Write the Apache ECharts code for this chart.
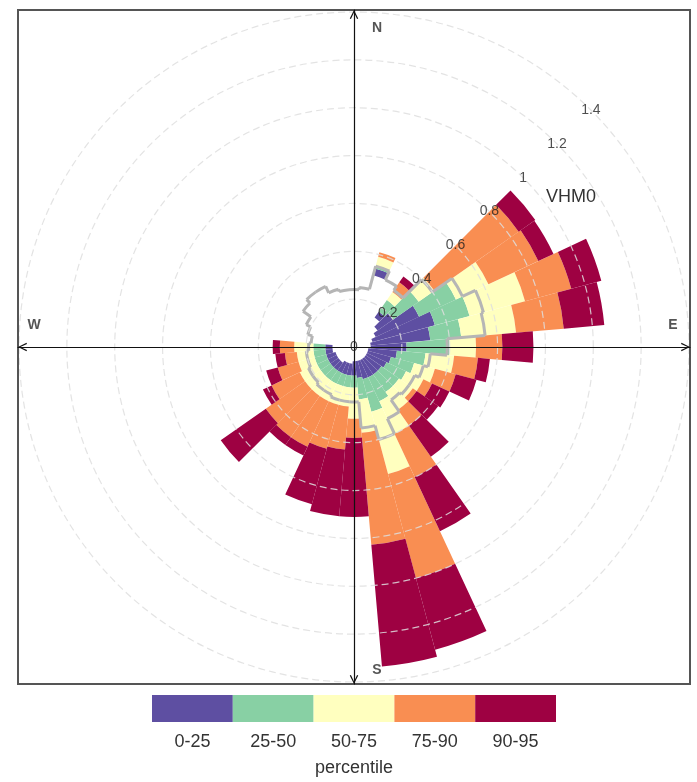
<!DOCTYPE html>
<html>
<head>
<meta charset="utf-8">
<script src="https://cdn.jsdelivr.net/npm/echarts@6/dist/echarts.min.js"></script>
<style>
  html, body { margin: 0; padding: 0; background: #fff; }
  #chart { width: 697px; height: 782px; }
</style>
</head>
<body>
<div id="chart"></div>
<script>
// wind direction bins (degrees, centre of each 10 degree sector)
const dirs = ['0', '10', '20', '30', '40', '50', '60', '70', '80', '90', '100', '110',
  '120', '130', '140', '150', '160', '170', '180', '190', '200', '210', '220', '230',
  '240', '250', '260', '270', '280', '290', '300', '310', '320', '330', '340', '350']

// VHM0 percentiles per sector (null = too few data for a band)
const p0 = [null, null, 0.31, null, 0.15, 0.12, 0.10, 0.08, 0.07, 0.07, 0.06, 0.06,
  0.06, 0.06, 0.06, 0.06, 0.06, 0.06, 0.06, 0.07, 0.07, 0.07, 0.08, 0.08,
  0.08, 0.08, 0.09, 0.09, null, null, null, null, null, null, null, null]
const p25 = [null, null, 0.34, null, 0.18, 0.20, 0.30, 0.35, 0.32, 0.22, 0.18, 0.16,
  0.15, 0.14, 0.14, 0.14, 0.14, 0.13, 0.12, 0.12, 0.12, 0.12, 0.12, 0.12,
  0.12, 0.12, 0.12, 0.12, null, null, null, null, null, null, null, null]
const p50 = [null, null, 0.35, null, 0.24, 0.33, 0.47, 0.50, 0.45, 0.40, 0.30, 0.26,
  0.24, 0.23, 0.23, 0.25, 0.28, 0.22, 0.17, 0.17, 0.17, 0.17, 0.17, 0.17,
  0.17, 0.17, 0.17, 0.17, null, null, null, null, null, null, null, null]
const p75 = [null, null, 0.39, null, 0.28, 0.41, 0.62, 0.74, 0.68, 0.51, 0.42, 0.35,
  0.32, 0.30, 0.32, 0.40, 0.55, 0.36, 0.30, 0.25, 0.25, 0.25, 0.25, 0.25,
  0.25, 0.24, 0.24, 0.25, null, null, null, null, null, null, null, null]
const p90 = [null, null, 0.41, null, 0.33, 0.84, 0.85, 0.94, 0.88, 0.62, 0.52, 0.44,
  0.36, 0.32, 0.40, 0.60, 1.00, 0.83, 0.38, 0.43, 0.44, 0.46, 0.46, 0.45,
  0.38, 0.33, 0.29, 0.31, null, null, null, null, null, null, null, null]
const p95 = [null, null, 0.41, null, 0.36, 0.925, 0.92, 1.07, 1.05, 0.75, 0.57, 0.53,
  0.44, 0.43, 0.56, 0.85, 1.31, 1.34, 0.71, 0.71, 0.68, 0.50, 0.50, 0.68,
  0.42, 0.38, 0.33, 0.34, null, null, null, null, null, null, null, null]
const meanVals = [0.24, 0.25, 0.35, 0.31, 0.29, 0.40, 0.50, 0.56, 0.55, 0.39, 0.32, 0.30,
  0.28, 0.28, 0.27, 0.33, 0.40, 0.34, 0.23, 0.23, 0.23, 0.22, 0.22, 0.21,
  0.21, 0.20, 0.20, 0.19, 0.18, 0.20, 0.22, 0.26, 0.28, 0.28, 0.25, 0.24]

const bands = ['0-25', '25-50', '50-75', '75-90', '90-95']
const bandColors = ['#5E4FA2', '#88D0A4', '#FFFFBF', '#F98E52', '#9E0142']
const radTicks = [0, 0.2, 0.4, 0.6, 0.8, 1, 1.2, 1.4]

const levels = [p0, p25, p50, p75, p90, p95]
const diff = (hi, lo) => hi.map((v, i) => (v == null || lo[i] == null) ? 0 : +(v - lo[i]).toFixed(3))

const CX = 354, CY = 347, R = 335
const font = '"Liberation Sans", Arial, sans-serif'

const chart = echarts.init(document.getElementById('chart'), null, { renderer: 'canvas' })

const roseSeries = [{
  type: 'bar', coordinateSystem: 'polar', polarIndex: 0, stack: 'p', name: 'base',
  data: p0.map(v => v == null ? 0 : v),
  itemStyle: { color: 'rgba(0,0,0,0)' }, barCategoryGap: '0%', silent: true, z: 2
}]
bands.forEach((b, k) => {
  roseSeries.push({
    type: 'bar', coordinateSystem: 'polar', polarIndex: 0, stack: 'p', name: b,
    data: diff(levels[k + 1], levels[k]),
    itemStyle: { color: bandColors[k] }, barCategoryGap: '0%', z: 2
  })
})

// mean as a stepped grey outline
roseSeries.push({
  type: 'custom', coordinateSystem: 'polar', polarIndex: 0, z: 3, silent: true,
  data: meanVals.map((v, i) => [v, i]),
  renderItem(params, api) {
    const i = params.dataIndex
    const n = meanVals.length
    const cs = params.coordSys
    const p = api.coord([api.value(0), i])
    const q = api.coord([meanVals[(i + 1) % n], (i + 1) % n])
    const r1 = Math.hypot(p[0] - cs.cx, p[1] - cs.cy)
    const r2 = Math.hypot(q[0] - cs.cx, q[1] - cs.cy)
    const a = Math.atan2(p[1] - cs.cy, p[0] - cs.cx)
    const half = Math.PI / n
    const e = a + half
    const style = { stroke: '#B5B5B5', lineWidth: 3, fill: null }
    return {
      type: 'group',
      children: [
        { type: 'arc', shape: { cx: cs.cx, cy: cs.cy, r: r1, startAngle: a - half, endAngle: e, clockwise: true }, style },
        { type: 'line', shape: { x1: cs.cx + r1 * Math.cos(e), y1: cs.cy + r1 * Math.sin(e), x2: cs.cx + r2 * Math.cos(e), y2: cs.cy + r2 * Math.sin(e) }, style }
      ]
    }
  }
})

// radius tick labels along the NE diagonal
roseSeries.push({
  type: 'scatter', coordinateSystem: 'polar', polarIndex: 1, z: 6, silent: true,
  symbolSize: 0,
  data: radTicks.map(v => [v, 45]),
  label: { show: true, position: 'inside', formatter: d => String(d.value[0]), color: '#222', fontSize: 14, fontFamily: font }
})

// legend colour bar
roseSeries.push({
  type: 'bar', xAxisIndex: 1, yAxisIndex: 1, silent: true,
  data: bands.map((b, k) => ({ value: 1, itemStyle: { color: bandColors[k] } })),
  barCategoryGap: '0%'
})

// invisible series to anchor the crosshair grid
roseSeries.push({ type: 'line', xAxisIndex: 0, yAxisIndex: 0, data: [], silent: true })

const arrow = 'path://M0,10 L5,0 L10,10 L8.6,10.6 L5,2.8 L1.4,10.6 Z'
const crossAxis = {
  type: 'value', min: -1, max: 1, z: 5,
  axisLine: { onZero: true, symbol: [arrow, arrow], symbolSize: [11, 9], symbolOffset: [4.5, -4.5], lineStyle: { color: '#111', width: 1.2 } },
  axisTick: { show: false }, axisLabel: { show: false }, splitLine: { show: false }
}

chart.setOption({
  animation: false,
  backgroundColor: '#fff',
  polar: [
    { center: [CX, CY], radius: R },
    { center: [CX, CY], radius: R }
  ],
  angleAxis: [
    { polarIndex: 0, type: 'category', data: dirs, startAngle: 95, clockwise: true, boundaryGap: true,
      axisLine: { show: false }, axisTick: { show: false }, axisLabel: { show: false }, splitLine: { show: false } },
    { polarIndex: 1, type: 'value', min: 0, max: 360, startAngle: 90, clockwise: true, show: false,
      axisLine: { show: false }, axisTick: { show: false }, axisLabel: { show: false }, splitLine: { show: false } }
  ],
  radiusAxis: [
    { polarIndex: 0, type: 'value', min: 0, max: 1.4, interval: 0.2, z: 4,
      axisLine: { show: false }, axisTick: { show: false }, axisLabel: { show: false },
      splitLine: { show: true, lineStyle: { color: 'rgba(222,222,222,0.85)', width: 1.2, type: [7, 4] } } },
    { polarIndex: 1, type: 'value', min: 0, max: 1.4, show: false,
      axisLine: { show: false }, axisTick: { show: false }, axisLabel: { show: false }, splitLine: { show: false } }
  ],
  grid: [
    { left: 18, top: 10, width: 672, height: 674, show: true, borderColor: '#555', borderWidth: 2, backgroundColor: 'rgba(0,0,0,0)', z: 5 },
    { left: 152, top: 695, width: 404, height: 27, z: 1 }
  ],
  xAxis: [
    Object.assign({ gridIndex: 0 }, crossAxis),
    { gridIndex: 1, type: 'category', data: bands,
      axisLine: { show: false }, axisTick: { show: false },
      axisLabel: { color: '#333', fontSize: 18, fontFamily: font, margin: 11 },
      name: 'percentile', nameLocation: 'middle', nameGap: 37,
      nameTextStyle: { color: '#333', fontSize: 18, fontFamily: font } }
  ],
  yAxis: [
    Object.assign({ gridIndex: 0 }, crossAxis),
    { gridIndex: 1, type: 'value', min: 0, max: 1, show: false }
  ],
  graphic: [
    { type: 'text', x: 377, y: 28, z: 10, style: { text: 'N', font: 'bold 14px ' + font, fill: '#555', align: 'center', verticalAlign: 'middle' } },
    { type: 'text', x: 673, y: 325, z: 10, style: { text: 'E', font: 'bold 14px ' + font, fill: '#555', align: 'center', verticalAlign: 'middle' } },
    { type: 'text', x: 377, y: 670, z: 10, style: { text: 'S', font: 'bold 14px ' + font, fill: '#555', align: 'center', verticalAlign: 'middle' } },
    { type: 'text', x: 34, y: 325, z: 10, style: { text: 'W', font: 'bold 14px ' + font, fill: '#555', align: 'center', verticalAlign: 'middle' } },
    { type: 'text', x: 571, y: 197, z: 10, style: { text: 'VHM0', font: '18px ' + font, fill: '#333', align: 'center', verticalAlign: 'middle' } }
  ],
  series: roseSeries
})
</script>
</body>
</html>
